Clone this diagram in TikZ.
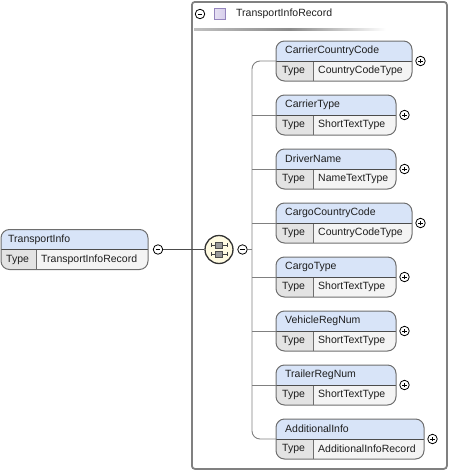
\documentclass[tikz,border=0pt]{standalone}
\usepackage{fontspec}
\setmainfont{Liberation Sans}
\definecolor{hdrblue}{HTML}{D8E4F8}
\definecolor{typegray}{HTML}{F4F4F4}
\definecolor{typedark}{HTML}{E3E3E3}
\definecolor{bordergray}{HTML}{6E6E6E}
\definecolor{conngray}{HTML}{808080}
\definecolor{txt}{HTML}{1E1E1E}
\definecolor{seqfill}{HTML}{FFFBE2}
\definecolor{lav}{HTML}{D6CDEB}
\definecolor{lavborder}{HTML}{9585BD}
\newcommand\elpaint[2]{%
  \begin{scope}
    \clip[rounded corners=8.5pt] (#1.west) -- (#1.north west) -- (#1.north east) -- (#1.south east) -- (#1.south west) -- cycle;
    \fill[hdrblue] (#1.north west) rectangle (#1.east);
    \fill[typegray] (#1.west) rectangle (#1.south east);
    \fill[typedark] (#1.west) rectangle ([xshift=#2]#1.south west);
    \draw[line width=0.8pt, draw=bordergray] ([xshift=#2]#1.west) -- ([xshift=#2]#1.south west);
    \draw[line width=0.9pt, draw=black!70] (#1.west) -- (#1.east);
  \end{scope}
  \draw[draw=bordergray, line width=1pt, rounded corners=8.5pt] (#1.west) -- (#1.north west) -- (#1.north east) -- (#1.south east) -- (#1.south west) -- cycle;
}
\begin{document}
\begin{tikzpicture}[x=1pt,y=-1pt,
  font=\fontsize{10.5}{12}\selectfont, text=txt,
  elbox/.style={minimum height=40pt, inner sep=0pt, outer sep=0pt, anchor=north west},
  lbl/.style={anchor=west, inner sep=0pt},
  pm/.style={circle, draw=black, line width=0.8pt, fill=white, minimum size=9.5pt, inner sep=0pt},
  plus/.style={pm, path picture={
      \draw[line width=0.8pt] ([xshift=-2.4pt]path picture bounding box.center) -- ([xshift=2.4pt]path picture bounding box.center);
      \draw[line width=0.8pt] ([yshift=-2.4pt]path picture bounding box.center) -- ([yshift=2.4pt]path picture bounding box.center);}},
  minus/.style={pm, path picture={
      \draw[line width=0.8pt] ([xshift=-2.4pt]path picture bounding box.center) -- ([xshift=2.4pt]path picture bounding box.center);}},
  conn/.style={draw=conngray, line width=0.9pt},
  mainconn/.style={draw=black!70, line width=1.8pt}
]
\useasboundingbox (0,0) rectangle (449,471);

% group box
\node[draw=black!50, line width=1.8pt, rounded corners=3pt, minimum width=255pt, minimum height=467pt,
      inner sep=0pt, anchor=north west] (grp) at (191,1) {};
\node[minus] (grpminus) at (200,14) {};
\node[draw=lavborder, line width=0.8pt, left color=lav!60, right color=lav, minimum width=11pt, minimum height=11pt,
      inner sep=0pt] (grpicon) at (220,14) {};
\node[lbl] (grpname) at (236,14) {TransportInfoRecord};
\shade[left color=black!25, right color=white, middle color=black!45] (194,28) rectangle (386,30);

% TransportInfo
\node[elbox, minimum width=147pt] (ti) at (1,229.5) {};
\elpaint{ti}{35pt}
\node[lbl] (tiname) at (8,239.5) {TransportInfo};
\node[lbl] (titype) at (6,259.5) {Type};
\node[lbl] (tival) at (41,259.5) {TransportInfoRecord};
\node[minus] (timinus) at (158,249.5) {};

% sequence compositor
\node[circle, draw=black!80, line width=1.3pt, fill=seqfill, minimum size=28pt, inner sep=0pt] (seq) at (219,249.5) {};
\foreach \dy in {-4.5,4.5}{
  \draw[black!75, line width=0.8pt] (211,249.5+\dy) -- (227,249.5+\dy);
  \draw[black!75, line width=0.8pt] (211,249.5+\dy-2) -- (211,249.5+\dy+2);
  \draw[black!75, line width=0.8pt] (227,249.5+\dy-2) -- (227,249.5+\dy+2);
  \draw[black!70, fill=black!40, line width=0.6pt] (215.5,249.5+\dy-3) rectangle (222.5,249.5+\dy+3);
}
\node[minus] (seqminus) at (242.5,249.5) {};
\coordinate (trunk) at (252,249.5);

\draw[mainconn] (timinus.east) -- (seq.west);
\draw[conn] (seqminus.east) -- (trunk);

% elements
\foreach \i/\nm/\ty/\yy/\w in {
  1/CarrierCountryCode/CountryCodeType/41/136,
  2/CarrierType/ShortTextType/95/120,
  3/DriverName/NameTextType/149/120,
  4/CargoCountryCode/CountryCodeType/203/136,
  5/CargoType/ShortTextType/257/120,
  6/VehicleRegNum/ShortTextType/311/120,
  7/TrailerRegNum/ShortTextType/365/120,
  8/AdditionalInfo/AdditionalInfoRecord/419/148}{
  \node[elbox, minimum width=\w pt] (e\i) at (276,\yy) {};
  \elpaint{e\i}{37pt}
  \node[lbl] (n\i) at (285,\yy+10) {\nm};
  \node[lbl] (t\i) at (282,\yy+30) {Type};
  \node[lbl] (v\i) at (318,\yy+30) {\ty};
  \node[plus] (p\i) at (276+\w+8.5,\yy+20) {};
}

\draw[conn, rounded corners=8pt] (e1.west) -| (trunk) |- (e8.west);
\foreach \i in {2,...,7}{
  \draw[conn] (e\i.west) -- (e\i.west -| trunk);
}
\end{tikzpicture}
\end{document}
